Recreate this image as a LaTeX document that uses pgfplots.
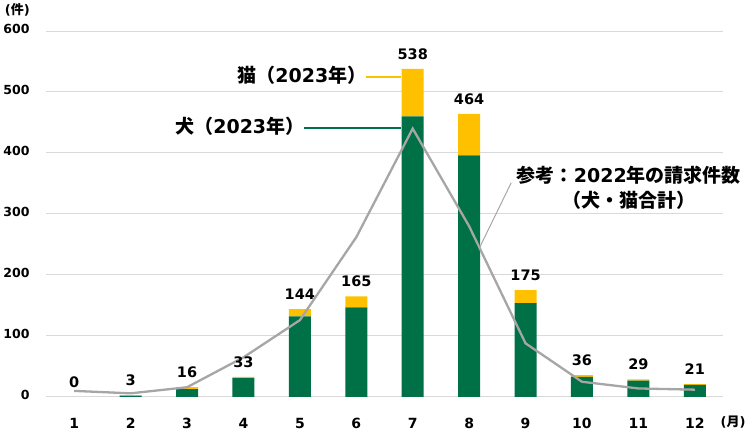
\documentclass[border=0pt]{standalone}
\usepackage{pgfplots}
\pgfplotsset{compat=1.18}
\usepackage{pgfplotstable}
\usepackage{fontspec}
\setmainfont{DejaVu Sans}
\newfontfamily\jp{Noto Sans CJK JP}
\usetikzlibrary{calc}

\definecolor{dog}{RGB}{0,112,70}
\definecolor{cat}{RGB}{255,192,0}
\definecolor{prev}{RGB}{166,166,166}
\definecolor{gridc}{RGB}{217,217,217}

\pgfplotstableread{
m dog cat total prev
1 0 0 0 10
2 2 1 3 6
3 13 3 16 16
4 31 2 33 65
5 132 12 144 126
6 147 18 165 262
7 460 78 538 440
8 396 68 464 280
9 154 21 175 88
10 33 3 36 25
11 27 2 29 14
12 20 1 21 12
}\data

\begin{document}
\begin{tikzpicture}
\pgfplotsset{
  base/.style={
    scale only axis, width=677pt, height=366pt,
    xmin=0.5, xmax=12.5, ymin=0, ymax=600,
    clip=false,
    /pgf/number format/assume math mode=true,
  }
}
\begin{axis}[base,
    ybar stacked, bar width=22pt,
    axis line style={draw=none},
    major tick length=0pt,
    xtick={1,...,12}, ytick={0,100,...,600},
    ymajorgrids, grid style={gridc, line width=1pt},
    xticklabel style={font=\fontsize{14}{16}\selectfont\bfseries, yshift=-18pt},
    yticklabel style={font=\fontsize{12.5}{14}\selectfont\bfseries, xshift=-13pt, yshift=2pt},
  ]
  \coordinate (sw) at (rel axis cs:0,0);
  \coordinate (ne) at (rel axis cs:1,1);
  \addplot[fill=dog, draw=none] table[x=m, y=dog]{\data};
  \addplot[fill=cat, draw=none] table[x=m, y=cat]{\data};
\end{axis}
\begin{axis}[base, hide axis]
  \addplot[prev, line width=2.3pt, no marks] table[x=m, y=prev]{\data};
  % totals above the bars
  \addplot[draw=none, no marks, nodes near coords, point meta=explicit,
    every node near coord/.append style={font=\fontsize{14.5}{16}\selectfont\bfseries, text=black, anchor=south, yshift=6pt}]
    table[x=m, y=total, meta=total]{\data};
  % annotations
  \draw[cat, line width=1.2pt] (axis cs:6.18,524.6) -- (axis cs:6.8,524.6);
  \node[anchor=east, inner sep=0pt, font=\bfseries\fontsize{19}{21}\selectfont] at (axis cs:6.18,527) {{\jp 猫（}2023{\jp 年）}};
  \draw[dog, line width=1.2pt] (axis cs:5.08,441) -- (axis cs:6.8,441);
  \node[anchor=east, inner sep=0pt, font=\bfseries\fontsize{19}{21}\selectfont] at (axis cs:5.08,443) {{\jp 犬（}2023{\jp 年）}};
  \draw[prev, line width=1pt] (axis cs:8.18,244) -- (axis cs:8.745,351);
  \node[align=center, inner sep=0pt, font=\bfseries\fontsize{19}{25}\selectfont] at (axis cs:10.83,343) {{\jp 参考：}2022{\jp 年の請求件数}\\{\jp （犬・猫合計）}};
  \node[inner sep=0pt, font=\bfseries\fontsize{13}{15}\selectfont] at (axis cs:-0.008,634) {({\jp 件})};
  \node[inner sep=0pt, font=\bfseries\fontsize{13}{15}\selectfont] at (axis cs:12.68,-41) {({\jp 月})};
\end{axis}
\pgfresetboundingbox
\path ($(sw)+(-46pt,-38pt)$) rectangle ($(ne)+(27pt,31pt)$);
\end{tikzpicture}
\end{document}
